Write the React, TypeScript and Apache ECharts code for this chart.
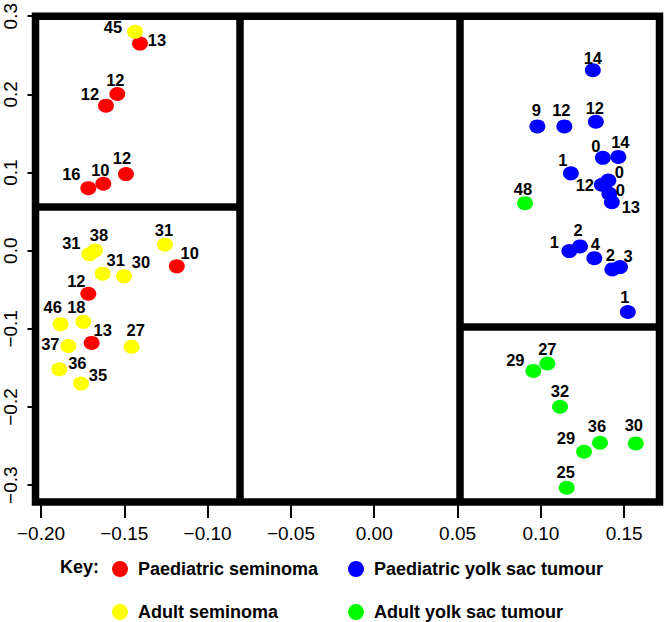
import React, { useEffect, useRef } from "react";
import * as echarts from "echarts";

// ---- axis ticks ----
const xTicks = [-0.2, -0.15, -0.1, -0.05, 0, 0.05, 0.1, 0.15];
const xTickLabels = ["−0.20", "−0.15", "−0.10", "−0.05", "0.00", "0.05", "0.10", "0.15"];
const yTicks = [-0.3, -0.2, -0.1, 0, 0.1, 0.2, 0.3];
const yTickLabels = ["−0.3", "−0.2", "−0.1", "0.0", "0.1", "0.2", "0.3"];
const xRange = [-0.2033, 0.1712];
const yRange = [-0.3215, 0.3];

// ---- region boundaries (data units) ----
const xSplitLeft = -0.0809;
const xSplitRight = 0.0515;
const ySplitLeft = 0.0557;
const ySplitRight = -0.097;

// ---- series: [x, y] points and their numeric labels ----
const paedSeminomaXY = [
  [-0.1406, 0.265], [-0.1542, 0.2005], [-0.161, 0.1856], [-0.149, 0.098],
  [-0.1626, 0.0856], [-0.1716, 0.08], [-0.1185, -0.02], [-0.1716, -0.055],
  [-0.1696, -0.118],
];
const paedSeminomaN = [13, 12, 12, 12, 10, 16, 10, 12, 13];

const adultSeminomaXY = [
  [-0.1436, 0.28], [-0.171, -0.0047], [-0.1676, 0.0004], [-0.163, -0.0294],
  [-0.1502, -0.0328], [-0.1256, 0.0077], [-0.1882, -0.094], [-0.1746, -0.091],
  [-0.1456, -0.123], [-0.1836, -0.122], [-0.189, -0.1516], [-0.176, -0.17],
];
const adultSeminomaN = [45, 31, 38, 31, 30, 31, 46, 18, 27, 37, 36, 35];

const paedYolkXY = [
  [0.1312, 0.231], [0.0979, 0.159], [0.1141, 0.159], [0.133, 0.165],
  [0.1372, 0.1188], [0.1465, 0.12], [0.118, 0.099], [0.1366, 0.0843],
  [0.1405, 0.0898], [0.1411, 0.0728], [0.1426, 0.062], [0.1171, -0.0005],
  [0.1235, 0.0055], [0.1321, -0.0095], [0.1429, -0.0239], [0.1475, -0.021],
  [0.1522, -0.0784],
];
const paedYolkN = [14, 9, 12, 12, 0, 14, 1, 12, 0, 0, 13, 1, 2, 4, 2, 3, 1];

const adultYolkXY = [
  [0.0905, 0.0608], [0.0955, -0.1538], [0.1039, -0.1443], [0.1115, -0.1997],
  [0.1355, -0.2457], [0.1259, -0.2572], [0.157, -0.2465], [0.1155, -0.3032],
];
const adultYolkN = [48, 29, 27, 32, 36, 29, 30, 25];

// ---- label offsets in px (layout only) ----
const paedSeminomaOff = [
  [17, -4], [-2, -14], [-16, -12], [-4, -16], [-3, -14], [-17, -14], [13, -13], [-12, -13], [11, -13],
];
const adultSeminomaOff = [
  [-22, -5], [-18, -11], [4, -15], [13, -14], [17, -14], [-1, -15], [-8, -17], [-7, -15],
  [4, -17], [-18, -2], [18, -6], [17, -9],
];
const paedYolkOff = [
  [0, -12], [-1, -16], [-3, -16], [-1, -14], [-7, -12], [2, -15], [-8, -13], [-17, 0],
  [11, -9], [11, -4], [19, 5], [-15, -9], [-2, -16], [1, -14], [-2, -14], [8, -11], [-3, -15],
];
const adultYolkOff = [
  [-2, -14], [-18, -11], [0, -14], [0, -16], [-3, -17], [-18, -14], [-2, -18], [-1, -16],
];

const FONT = "'Liberation Sans', Arial, sans-serif";

function build(xy: number[][], n: number[], off: number[][]) {
  return xy.map((p, i) => ({
    value: [p[0], p[1], n[i]],
    label: { offset: off[i] },
  }));
}

function tickLabel(ticks: number[], labels: string[]) {
  return (v: number) => {
    const i = ticks.findIndex((t) => Math.abs(t - v) < 1e-9);
    return i >= 0 ? labels[i] : "";
  };
}

export default function App() {
  const ref = useRef<HTMLDivElement>(null);
  useEffect(() => {
    if (!ref.current) return;
    const chart = echarts.init(ref.current, undefined, { renderer: "svg" });
    const labelStyle = {
      show: true,
      position: "inside",
      formatter: (p: any) => String(p.value[2]),
      fontSize: 16.5,
      lineHeight: 16,
      fontWeight: "bold",
      fontFamily: FONT,
      color: "#000",
    };
    const mkSeries = (name: string, color: string, data: any[], extra: any = {}) => ({
      name,
      type: "scatter",
      symbol: "circle",
      symbolSize: [16, 14],
      itemStyle: { color, opacity: 1 },
      label: labelStyle,
      emphasis: { disabled: true },
      data,
      ...extra,
    });
    const legendBase = {
      orient: "horizontal",
      icon: "circle",
      itemWidth: 16,
      itemHeight: 16,
      padding: 0,
      selectedMode: false,
      textStyle: {
        fontSize: 18,
        fontWeight: "bold",
        fontFamily: FONT,
        color: "#000",
        padding: [0, 0, 0, 5],
      },
    };
    chart.setOption({
      animation: false,
      backgroundColor: "#fff",
      textStyle: { fontFamily: FONT },
      grid: {
        left: 35.5,
        right: 4.5,
        top: 15.5,
        bottom: 120,
        show: true,
        borderColor: "#000",
        borderWidth: 7.5,
        backgroundColor: "transparent",
      },
      xAxis: {
        type: "value",
        min: xRange[0],
        max: xRange[1],
        axisLine: { show: false, onZero: false },
        splitLine: { show: false },
        axisTick: { show: true, length: 16, lineStyle: { color: "#000", width: 2 }, customValues: xTicks },
        axisLabel: {
          customValues: xTicks,
          formatter: tickLabel(xTicks, xTickLabels),
          fontSize: 19,
          color: "#000",
          fontFamily: FONT,
          margin: 22,
        },
      },
      yAxis: {
        type: "value",
        min: yRange[0],
        max: yRange[1],
        axisLine: { show: false, onZero: false },
        splitLine: { show: false },
        axisTick: { show: true, length: 8, lineStyle: { color: "#000", width: 2 }, customValues: yTicks },
        axisLabel: {
          customValues: yTicks,
          formatter: tickLabel(yTicks, yTickLabels),
          fontSize: 19,
          color: "#000",
          fontFamily: FONT,
          rotate: 90,
          margin: 16,
        },
      },
      legend: [
        { ...legendBase, data: ["Paediatric seminoma"], left: 112, top: 560 },
        { ...legendBase, data: ["Paediatric yolk sac tumour"], left: 348, top: 560 },
        { ...legendBase, data: ["Adult seminoma"], left: 112, top: 603 },
        { ...legendBase, data: ["Adult yolk sac tumour"], left: 348, top: 603 },
      ],
      graphic: [
        {
          type: "text",
          left: 60,
          top: 558,
          style: { text: "Key:", fontSize: 18, fontWeight: "bold", fontFamily: FONT, fill: "#000" },
        },
      ],
      series: [
        mkSeries("Paediatric seminoma", "#ff0000", build(paedSeminomaXY, paedSeminomaN, paedSeminomaOff), {
          markLine: {
            silent: true,
            symbol: ["none", "none"],
            label: { show: false },
            lineStyle: { color: "#000", width: 7.5, type: "solid" },
            emphasis: { disabled: true },
            data: [
              [{ coord: [xSplitLeft, yRange[0]] }, { coord: [xSplitLeft, yRange[1]] }],
              [{ coord: [xSplitRight, yRange[0]] }, { coord: [xSplitRight, yRange[1]] }],
              [{ coord: [xRange[0], ySplitLeft] }, { coord: [xSplitLeft, ySplitLeft] }],
              [{ coord: [xSplitRight, ySplitRight] }, { coord: [xRange[1], ySplitRight] }],
            ],
          },
        }),
        mkSeries("Adult seminoma", "#ffff00", build(adultSeminomaXY, adultSeminomaN, adultSeminomaOff)),
        mkSeries("Paediatric yolk sac tumour", "#0000ff", build(paedYolkXY, paedYolkN, paedYolkOff)),
        mkSeries("Adult yolk sac tumour", "#00ff00", build(adultYolkXY, adultYolkN, adultYolkOff)),
      ],
    });
    return () => chart.dispose();
  }, []);
  return (
    <div
      ref={ref}
      style={{ position: "fixed", left: 0, top: 0, width: 664, height: 622, background: "#fff" }}
    />
  );
}
